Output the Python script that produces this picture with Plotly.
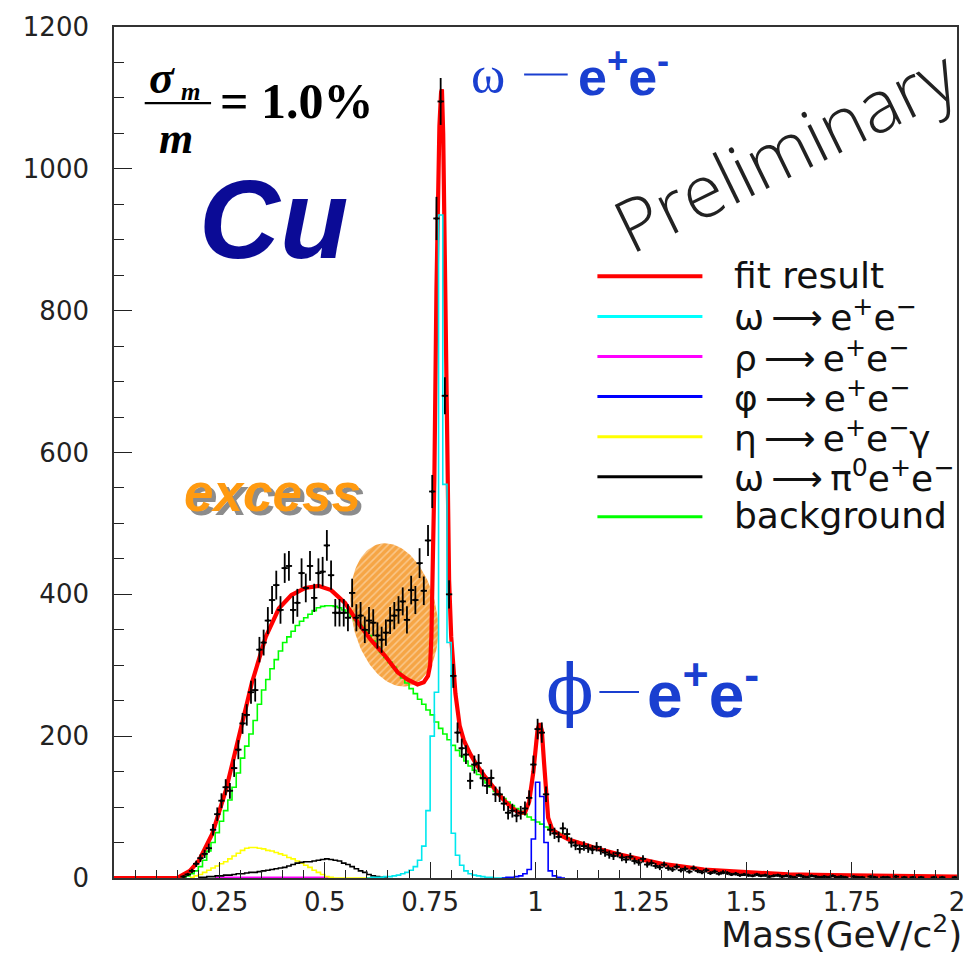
import numpy as np
import plotly.graph_objects as go

# ---------------- data ----------------
BIN = 0.01  # GeV per bin

# measured dielectron spectrum (counts per bin), first bin centre at 0.165 GeV
data_first_center = 0.165
data_counts = [
    2, 5, 10, 20, 28, 34, 42, 68, 90, 109,
    128, 123, 155, 181, 218, 230, 262, 265, 322, 332,
    363, 392, 413, 378, 437, 440, 378, 388, 430, 409,
    440, 395, 430, 432, 469, 427, 374, 374, 374, 367,
    402, 367, 370, 350, 363, 360, 342, 336, 346, 363,
    370, 378, 390, 364, 406, 392, 444, 405, 476, 545,
    930, 1095, 680, 400, 285, 205, 183, 174, 137, 160,
    162, 141, 130, 141, 118, 118, 105, 92, 95, 88,
    92, 98, 113, 160, 210, 205, 118, 68, 63, 58,
    70, 62, 50, 46, 41, 45, 42, 40, 44, 39,
    36, 33, 31, 35, 29, 26, 30, 24, 22, 27,
    19, 21, 17, 15, 19, 14, 12, 16, 11, 13,
    9, 14, 10, 8, 11, 7, 9, 6, 8, 7,
    5, 6, 4, 5, 4, 3, 5, 3, 4, 2,
    3, 4, 2, 3, 2, 1, 4, 2, 1, 3,
    2, 1, 2, 1, 3, 1, 2, 1, 0, 2,
    1, 1, 0, 2, 1, 0, 1, 1, 0, 2,
    0, 1, 0, 1, 0, 1, 0, 0, 1, 0,
    1, 0, 0, 1,
]

# fit components: histograms with 0.01 GeV bins, given by first bin edge
bkg_start = 0.15
background = [
    0, 1, 3, 6, 10, 16, 25, 38, 50, 64,
    80, 95, 110, 128, 148, 169, 186, 203, 222, 245,
    265, 280, 295, 308, 320, 332, 340, 348, 356, 362,
    367, 372, 377, 381, 383, 384, 384, 383, 381, 378,
    374, 369, 363, 356, 349, 342, 334, 326, 318, 311,
    304, 297, 290, 282, 275, 267, 260, 252, 245, 237,
    230, 220, 211, 203, 195, 187, 180, 172, 165, 158,
    152, 146, 140, 134, 128, 122, 117, 112, 107, 102,
    98, 94, 90, 86, 82, 79, 76, 72, 69, 66,
    63, 60, 57, 54, 52, 50, 48, 46, 44, 42,
    40, 38, 36, 35, 33, 32, 30, 29, 27, 26,
    25, 24, 23, 21, 20, 19, 18, 17, 17, 16,
    15, 14, 13, 13, 12, 11, 11, 10, 10, 9,
    9, 8, 8, 8, 7, 7, 7, 6, 6, 6,
    6, 5, 5, 5, 5, 5, 4, 4, 4, 4,
    4, 4, 3, 3, 3, 3, 3, 3, 3, 3,
    3, 2, 2, 2, 2, 2, 2, 2, 2, 2,
    2, 2, 1, 1, 1, 1, 1, 1, 1, 1,
    1, 1, 1, 1, 1,
]

eta_dalitz_start = 0.18
eta_dalitz = [
    1, 3, 5, 8, 11, 14, 17, 20, 23, 27,
    31, 35, 39, 42, 43, 43, 42, 41, 39, 38,
    36, 34, 32, 29, 27, 24, 21, 18, 15, 11,
    8, 5, 2, 1, 0, 0, 0, 0, 0, 0,
    0, 0, 0,
]

omega_dalitz_start = 0.20
omega_dalitz = [
    1, 1, 2, 2, 3, 3, 4, 4, 5, 6,
    6, 7, 8, 8, 9, 10, 11, 12, 13, 14,
    15, 17, 19, 21, 22, 23, 23, 24, 25, 26,
    27, 26, 25, 24, 21, 19, 16, 13, 10, 8,
    5, 3, 2, 1, 0,
]

rho_start = 0.24
rho_ee = [1] * 27

omega_start = 0.60
omega_ee = [
    0, 1, 1, 1, 2, 2, 3, 4, 6, 8,
    11, 16, 25, 45, 95, 200, 262, 935, 555, 332,
    63, 32, 18, 10, 6, 4, 3, 2, 1, 1,
    0, 0, 0, 0,
]

phi_start = 0.92
phi_ee = [0, 1, 1, 2, 3, 6, 12, 55, 135, 115, 50, 10, 3, 1, 0]

# total fit curve
fit_mass = [
    0.0, 0.15, 0.162, 0.18, 0.202, 0.233, 0.266, 0.296, 0.327, 0.36,
    0.391, 0.421, 0.454, 0.485, 0.515, 0.548, 0.579, 0.609, 0.642, 0.673,
    0.696, 0.72, 0.735, 0.745, 0.75, 0.753, 0.757, 0.76, 0.765, 0.768,
    0.772, 0.776, 0.778, 0.781, 0.784, 0.787, 0.791, 0.795, 0.80, 0.805,
    0.81, 0.82, 0.83, 0.845, 0.86, 0.88, 0.90, 0.92, 0.94, 0.96,
    0.975, 0.985, 0.995, 1.0, 1.005, 1.01, 1.015, 1.02, 1.025, 1.03,
    1.04, 1.06, 1.08, 1.10, 1.15, 1.20, 1.25, 1.30, 1.35, 1.40,
    1.45, 1.50, 1.60, 1.70, 1.80, 1.90, 2.0,
]
fit_value = [
    0, 0, 4, 10, 25, 62, 125, 198, 275, 340,
    380, 399, 409, 412, 406, 388, 360, 336, 314, 290,
    280, 273, 276, 285, 300, 340, 450, 560, 830, 960,
    1060, 1108, 1112, 1050, 900, 700, 520, 420, 340, 295,
    260, 215, 194, 175, 160, 143, 127, 113, 101, 92,
    92, 108, 150, 185, 210, 218, 208, 165, 115, 85,
    68, 60, 54, 50, 41, 33, 26, 20, 16, 12,
    10, 8, 5, 4, 3, 2, 2,
]

x_tick_vals = [0.25, 0.5, 0.75, 1.0, 1.25, 1.5, 1.75, 2.0]
x_tick_text = ["0.25", "0.5", "0.75", "1", "1.25", "1.5", "1.75", "2"]
y_tick_vals = [0, 200, 400, 600, 800, 1000, 1200]
y_tick_text = ["0", "200", "400", "600", "800", "1000", "1200"]

TS = "\u2009"  # thin space around the arrows
legend_entries = [
    ("fit result", "#ff0000"),
    (f"ω{TS}⟶{TS}e<sup>+</sup>e<sup>−</sup>", "#00ffff"),
    (f"ρ{TS}⟶{TS}e<sup>+</sup>e<sup>−</sup>", "#ff00ff"),
    (f"φ{TS}⟶{TS}e<sup>+</sup>e<sup>−</sup>", "#0000ff"),
    (f"η{TS}⟶{TS}e<sup>+</sup>e<sup>−</sup>γ", "#ffff00"),
    (f"ω{TS}⟶{TS}π<sup>0</sup>e<sup>+</sup>e<sup>−</sup>", "#000000"),
    ("background", "#00ff00"),
]

# region of the low-mass excess (centre, half-widths, lean)
excess_center = (0.665, 371)
excess_half = (0.102, 101)
excess_lean = 0.022

# ---------------- layout geometry (pixels) ----------------
W, H = 977, 957
PL, PR, PT, PB = 114, 965, 18, 878


def px(x):
    return (x - PL) / (PR - PL)


def py(y):
    return (PB - y) / (PB - PT)


def hist_xy(start, values):
    edges = [round(start + BIN * i, 4) for i in range(len(values) + 1)]
    return edges, list(values) + [values[-1]]


fig = go.Figure()

# hatched ellipse marking the excess
t = np.linspace(0, 2 * np.pi, 121)
ex = excess_center[0] + excess_half[0] * np.cos(t) - excess_lean * np.sin(t)
ey = excess_center[1] + excess_half[1] * np.sin(t)
fig.add_trace(go.Scatter(
    x=ex, y=ey, mode="lines", line=dict(width=0, color="rgba(0,0,0,0)"),
    fill="toself", fillcolor="#f6a545",
    fillpattern=dict(shape="/", fgcolor="#fde9cf", bgcolor="#f6a545",
                     size=5, solidity=0.3),
    hoverinfo="skip", showlegend=False,
))

components = [
    (rho_start, rho_ee, "#ff00ff"),
    (eta_dalitz_start, eta_dalitz, "#ffff00"),
    (omega_dalitz_start, omega_dalitz, "#000000"),
    (bkg_start, background, "#00ff00"),
]
for start, vals, col in components:
    hx, hy = hist_xy(start, vals)
    fig.add_trace(go.Scatter(x=hx, y=hy, mode="lines", line_shape="hv",
                             line=dict(color=col, width=1.6), showlegend=False))

fig.add_trace(go.Scatter(x=fit_mass, y=fit_value, mode="lines",
                         line=dict(color="#ff0000", width=4.2), showlegend=False))

for start, vals, col in [(omega_start, omega_ee, "#00e8ee"), (phi_start, phi_ee, "#0000ff")]:
    hx, hy = hist_xy(start, vals)
    fig.add_trace(go.Scatter(x=hx, y=hy, mode="lines", line_shape="hv",
                             line=dict(color=col, width=1.6), showlegend=False))

counts = np.array(data_counts, dtype=float)
centers = np.round(data_first_center + BIN * np.arange(len(counts)), 4)
mask = counts > 0
fig.add_trace(go.Scatter(
    x=centers[mask], y=counts[mask], mode="markers",
    marker=dict(size=3, color="black"),
    error_y=dict(type="data", array=np.sqrt(counts[mask]), width=0,
                 thickness=1.8, color="black"),
    error_x=dict(type="constant", value=0.0075, width=0, thickness=1.8,
                 color="black"),
    showlegend=False,
))

tick_font = dict(family="DejaVu Sans", size=26, color="#222")
fig.update_layout(
    width=W, height=H,
    margin=dict(l=PL, r=W - PR, t=PT, b=H - PB),
    paper_bgcolor="white", plot_bgcolor="white",
    showlegend=False,
    xaxis=dict(
        range=[0, 2], tickvals=x_tick_vals, ticktext=x_tick_text,
        ticks="inside", ticklen=16, tickwidth=1.3, tickcolor="#222",
        minor=dict(dtick=0.05, ticks="inside", ticklen=8, tickwidth=1.2, tickcolor="#222"),
        showline=True, linecolor="#333", linewidth=1.6, mirror=True,
        showgrid=False, zeroline=False, tickfont=tick_font, ticklabelstandoff=0,
    ),
    yaxis=dict(
        range=[0, 1200], tickvals=y_tick_vals, ticktext=y_tick_text,
        ticks="inside", ticklen=18, tickwidth=1.3, tickcolor="#222",
        minor=dict(dtick=50, ticks="inside", ticklen=10, tickwidth=1.2, tickcolor="#222"),
        showline=True, linecolor="#333", linewidth=1.6, mirror=True,
        showgrid=False, zeroline=False, tickfont=tick_font, ticklabelstandoff=18,
    ),
)

ann = []
shapes = []


def text(x, y, s, size, color="black", family="DejaVu Sans", xanchor="center",
         yanchor="middle", angle=0, weight=None, shadow=None):
    f = dict(family=family, size=size, color=color)
    if weight is not None:
        f["weight"] = weight
    if shadow is not None:
        f["shadow"] = shadow
    ann.append(dict(x=px(x), y=py(y), xref="paper", yref="paper", text=s,
                    showarrow=False, xanchor=xanchor, yanchor=yanchor,
                    textangle=angle, font=f))


def hline(x0, x1, y, color, width):
    shapes.append(dict(type="line", xref="paper", yref="paper",
                       x0=px(x0), x1=px(x1), y0=py(y), y1=py(y),
                       line=dict(color=color, width=width), layer="above"))


# axis title
text(972, 933, "Mass(GeV/c<sup>2</sup>)", 36, color="#1a1a1a", xanchor="right")

# legend
for i, (label, col) in enumerate(legend_entries):
    yy = 270 + 40.5 * i
    hline(602, 708, yy, col, 4 if i == 0 else 3)
    text(738, yy - 1, label, 36, color="#111", xanchor="left")

# resolution formula
serif = "Liberation Serif"
text(162, 69, "<b><i>σ</i></b>", 46, family=serif)
text(191, 83, "<b><i>m</i></b>", 25, family=serif)
hline(145, 212, 95, "black", 2.2)
text(177, 131, "<b><i>m</i></b>", 44, family=serif)
text(219, 93, "<b>= 1.0%</b>", 50, family=serif, xanchor="left")

# target label
text(275, 213, "<b><i>Cu</i></b>", 112, color="#0b0b96", family="Liberation Sans")

# resonance labels
blue = "#1a3fd0"
text(492, 66, "ω", 52, color=blue, family=serif)
hline(528, 572, 66, blue, 2)
text(580, 64, "<b>e<sup>+</sup>e<sup>-</sup></b>", 52, color=blue,
     family="Liberation Sans", xanchor="left")
text(574, 688, "ϕ", 70, color=blue, family="DejaVu Serif")
hline(604, 644, 690, blue, 2)
text(650, 688, "<b>e<sup>+</sup>e<sup>-</sup></b>", 64, color=blue,
     family="Liberation Sans", xanchor="left")

# excess label with drop shadow
text(274, 488, "<b><i>excess</i></b>", 53, color="#ff9a10",
     family="Liberation Sans", shadow="4px 4px 0px #8c8c8c")

# watermark
text(791, 141, "Preliminary", 73, color="#222",
     family="Open Sans", angle=-26, weight=300)

fig.update_layout(annotations=ann, shapes=shapes)
fig.write_html("out.html")
